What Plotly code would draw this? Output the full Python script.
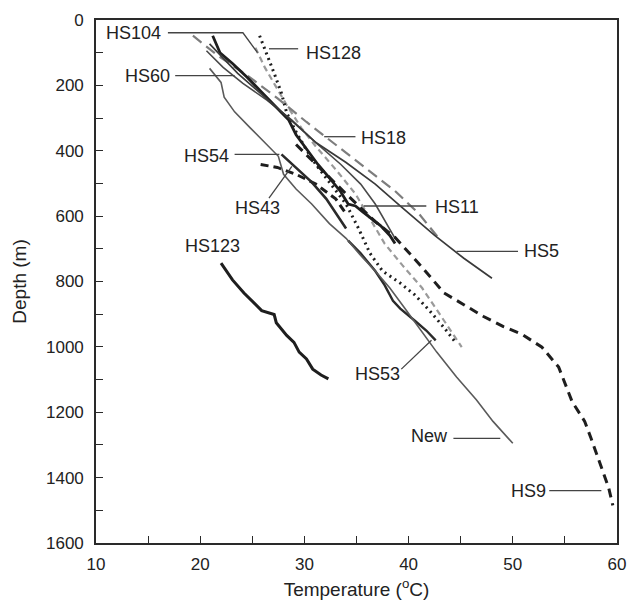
import plotly.graph_objects as go

# Borehole temperature profiles: temperature (degC) against depth (m)
hs104_t = [25.3, 26.2, 27.2, 28.3, 29.7, 31.1, 33.0, 34.9, 36.3, 37.7, 39.4, 41.3, 43.2, 45.1]
hs104_d = [85, 145, 200, 260, 330, 387, 457, 532, 608, 684, 750, 820, 910, 1001]

hs128_t = [25.7, 26.4, 27.1, 27.8, 28.3, 29.1, 30.0, 31.1, 32.5, 34.0, 35.2, 36.3, 37.5, 39.2, 40.6, 42.0, 43.4, 44.5]
hs128_d = [48, 103, 163, 224, 284, 336, 387, 442, 502, 563, 638, 714, 768, 805, 841, 889, 941, 986]

hs60_t = [20.6, 22.2, 24.1, 26.4, 28.8, 31.1, 33.5, 35.4, 36.8, 38.7]
hs60_d = [94, 145, 194, 245, 306, 375, 442, 502, 563, 668]

hs54_t = [25.8, 27.4, 29.2, 31.1, 33.0, 34.0]
hs54_d = [442, 451, 472, 502, 547, 593]

hs43_t = [27.8, 29.2, 30.7, 32.1, 33.2, 34.0]
hs43_d = [411, 451, 496, 547, 599, 638]

hs123_t = [22.0, 23.1, 24.2, 25.2, 25.9, 27.1, 27.3, 28.3, 29.0, 29.5, 30.2, 30.8, 31.6, 32.3]
hs123_d = [744, 795, 835, 865, 889, 901, 926, 965, 986, 1016, 1037, 1068, 1086, 1098]

hs18_t = [19.3, 21.7, 24.5, 27.4, 30.2, 33.0, 35.8, 38.7, 41.0, 42.9]
hs18_d = [48, 109, 169, 239, 312, 381, 451, 523, 593, 668]

hs11_t = [21.2, 21.9, 23.1, 24.5, 25.9, 27.6, 28.5, 29.2, 30.2, 31.3, 32.5, 33.5, 34.2, 34.9, 35.6, 36.3, 37.3, 38.2, 38.7]
hs11_d = [48, 100, 133, 175, 221, 275, 306, 351, 396, 442, 487, 526, 563, 569, 587, 605, 629, 659, 684]

hs5_t = [20.9, 23.6, 28.5, 31.1, 34.0, 36.8, 39.3, 42.5, 45.3, 48.0]
hs5_d = [73, 163, 300, 375, 436, 502, 572, 659, 729, 790]

hs53_t = [34.2, 35.4, 36.8, 37.7, 38.5, 39.2, 40.6, 41.7, 42.6]
hs53_d = [675, 714, 768, 811, 859, 883, 920, 950, 980]

new_t = [20.9, 22.0, 22.3, 23.3, 24.8, 26.4, 27.5, 28.0, 29.2, 30.7, 32.4, 34.0, 35.4, 36.8,
         38.2, 39.6, 41.0, 42.7, 44.6, 46.5, 48.1, 50.0]
new_d = [148, 191, 236, 281, 330, 381, 417, 472, 517, 563, 623, 668, 720, 768,
         820, 880, 941, 1016, 1092, 1162, 1228, 1295]

hs9_t = [29.2, 31.6, 34.0, 36.8, 38.7, 41.2, 43.4, 45.3, 47.2, 49.1, 50.9, 52.8, 54.4,
         55.7, 56.9, 57.5, 58.5, 59.2, 59.6]
hs9_d = [381, 457, 532, 617, 665, 753, 835, 871, 907, 938, 962, 1001, 1062,
         1168, 1228, 1279, 1370, 1431, 1485]

x_ticks = [10, 20, 30, 40, 50, 60]
y_ticks = [0, 200, 400, 600, 800, 1000, 1200, 1400, 1600]

FONT = "Liberation Sans, Arial, Helvetica, sans-serif"
INK = "#222222"

# (name, temps, depths, colour, width, dash)
profiles = [
    ("HS104", hs104_t, hs104_d, "#9a9a9a", 2.2, "6px,4px"),
    ("HS128", hs128_t, hs128_d, "#1e1e1e", 3.0, "2px,4px"),
    ("HS60", hs60_t, hs60_d, "#4a4a4a", 1.6, "solid"),
    ("HS54", hs54_t, hs54_d, "#1e1e1e", 3.0, "8px,5px"),
    ("HS43", hs43_t, hs43_d, "#2a2a2a", 2.6, "solid"),
    ("HS123", hs123_t, hs123_d, "#1e1e1e", 3.0, "solid"),
    ("HS18", hs18_t, hs18_d, "#7d7d7d", 2.2, "11px,6px"),
    ("HS11", hs11_t, hs11_d, "#1e1e1e", 2.8, "solid"),
    ("HS5", hs5_t, hs5_d, "#3a3a3a", 1.7, "solid"),
    ("HS53", hs53_t, hs53_d, "#2a2a2a", 2.4, "solid"),
    ("New", new_t, new_d, "#5a5a5a", 1.6, "solid"),
    ("HS9", hs9_t, hs9_d, "#1e1e1e", 3.0, "9px,6px"),
]

fig = go.Figure()
for name, t, d, col, w, dash in profiles:
    fig.add_trace(go.Scatter(x=t, y=d, mode="lines", name=name,
                             line=dict(color=col, width=w, dash=dash),
                             showlegend=False, hoverinfo="skip"))

# Curve labels: (text, label x, label y, leader path points)
labels = [
    ("HS104", 13.6, 39, [(16.9, 39), (24.1, 39), (25.5, 100)]),
    ("HS128", 32.8, 100, [(26.6, 88), (29.4, 88)]),
    ("HS60", 14.9, 170, [(17.6, 170), (23.3, 170)]),
    ("HS54", 20.6, 415, [(23.3, 411), (27.6, 411)]),
    ("HS43", 25.5, 574, [(26.6, 545), (28.8, 448)]),
    ("HS123", 21.2, 690, []),
    ("HS18", 37.6, 360, [(31.9, 357), (34.9, 357)]),
    ("HS11", 44.6, 572, [(35.7, 569), (41.7, 569)]),
    ("HS5", 52.8, 708, [(44.6, 708), (50.5, 708)]),
    ("HS53", 37.0, 1083, [(39.3, 1068), (42.2, 980)]),
    ("New", 42.0, 1273, [(44.3, 1280), (48.8, 1280)]),
    ("HS9", 51.5, 1440, [(53.5, 1440), (58.5, 1440)]),
]

for text, lx, ly, leader in labels:
    fig.add_annotation(x=lx, y=ly, xref="x", yref="y", text=text, showarrow=False,
                       font=dict(family=FONT, size=18, color=INK))
    if leader:
        path = "M " + " L ".join(f"{px},{py}" for px, py in leader)
        fig.add_shape(type="path", path=path, xref="x", yref="y",
                      line=dict(color="#444444", width=1.3))

axis_common = dict(
    showgrid=False, zeroline=False, showline=True, linecolor="#2a2a2a", linewidth=1.6,
    mirror=True, ticks="inside", ticklen=7, tickwidth=1.4, tickcolor="#2a2a2a",
    tickfont=dict(family=FONT, size=17, color=INK),
)

fig.update_xaxes(range=[10, 60], tickvals=x_ticks, ticklabelstandoff=5,
                 minor=dict(ticks="inside", ticklen=7, tickwidth=1.4, tickcolor="#2a2a2a", dtick=5),
                 title=dict(text="Temperature (<sup>o</sup>C)", standoff=9,
                            font=dict(family=FONT, size=19, color=INK)),
                 **axis_common)
fig.update_yaxes(range=[1600, 0], tickvals=y_ticks, ticklabelstandoff=7,
                 minor=dict(ticks="inside", ticklen=7, tickwidth=1.4, tickcolor="#2a2a2a", dtick=100),
                 title=dict(text="Depth (m)", standoff=14,
                            font=dict(family=FONT, size=19, color=INK)),
                 **axis_common)

fig.update_layout(width=637, height=612, margin=dict(l=96, r=11, t=14, b=69),
                  paper_bgcolor="white", plot_bgcolor="white")

fig.write_html("out.html")
